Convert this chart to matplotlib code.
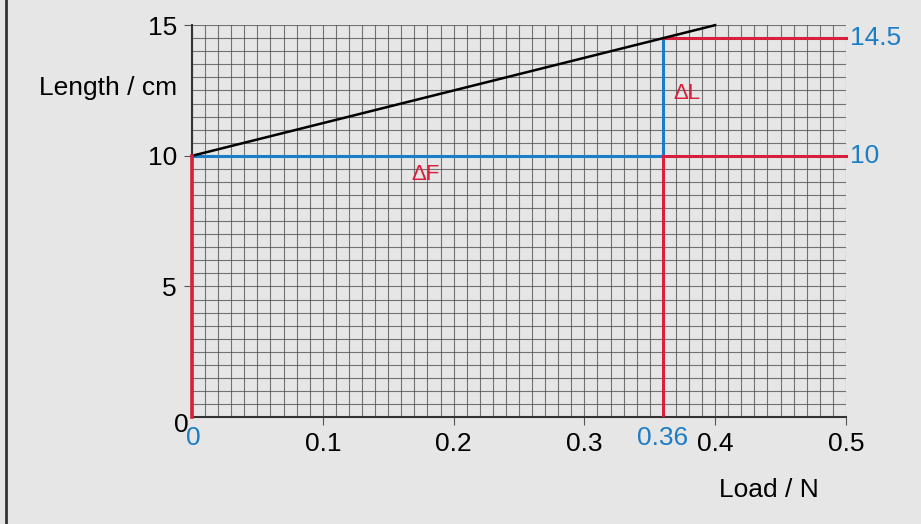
import numpy as np
import matplotlib.pyplot as plt
from matplotlib.lines import Line2D

# data
line_load = [0.0, 0.4]
line_length = [10.0, 15.0]
f_point = 0.36
l0 = 10.0
l1 = 14.5
x_ticks = [0.1, 0.2, 0.3, 0.4, 0.5]
x_tick_labels = ["0.1", "0.2", "0.3", "0.4", "0.5"]
y_ticks = [5, 10, 15]
y_tick_labels = ["5", "10", "15"]

BG = "#e6e6e6"
BLUE = "#1b7dc6"
RED = "#d8203c"
FS = 19

plt.rcParams['font.family'] = ['Liberation Sans', 'DejaVu Sans']

fig = plt.figure(figsize=(9.21, 5.24), dpi=100, facecolor=BG)
ax = fig.add_axes([0.2085, 0.204, 0.710, 0.748])
ax.set_facecolor(BG)
ax.set_xlim(0, 0.5)
ax.set_ylim(0, 15)

# graph paper grid
ax.set_xticks(np.arange(0, 0.5001, 0.01), minor=True)
ax.set_yticks(np.arange(0, 15.001, 0.5), minor=True)
ax.grid(True, which='minor', color='#555555', lw=0.8, alpha=0.8)
ax.grid(True, which='major', color='#555555', lw=0.8, alpha=0.8)
ax.tick_params(which='minor', length=0)

ax.set_xticks(x_ticks)
ax.set_xticklabels(x_tick_labels)
ax.set_yticks(y_ticks)
ax.set_yticklabels(y_tick_labels)
ax.tick_params(which='major', labelsize=FS, length=6, width=0.8,
               color='#555555', pad=5)

for s in ['top', 'right']:
    ax.spines[s].set_visible(False)
for s in ['left', 'bottom']:
    ax.spines[s].set_color('#333333')
    ax.spines[s].set_linewidth(1.5)

# the graph
ax.plot(line_load, line_length, color='black', lw=1.8, clip_on=False, zorder=5)

# construction lines
ax.plot([0, f_point], [l0, l0], color=BLUE, lw=2.2, zorder=4)
ax.plot([f_point, f_point], [l0, l1], color=BLUE, lw=2.2, zorder=4)
ax.plot([0, 0], [0, l0], color=RED, lw=2.6, zorder=6, clip_on=False)
ax.plot([f_point, f_point], [0, l0], color=RED, lw=2.2, zorder=4)
ax.plot([f_point, 0.5], [l0, l0], color=RED, lw=2.2, zorder=4, clip_on=False)
ax.plot([f_point, 0.5], [l1, l1], color=RED, lw=2.2, zorder=4, clip_on=False)

ax.text(0.168, 9.3, "ΔF", color=RED, fontsize=16, ha='left', va='center')
ax.text(0.368, 12.4, "ΔL", color=RED, fontsize=16, ha='left', va='center')

ax.text(0.503, l1, "14.5", color=BLUE, fontsize=FS, ha='left', va='center')
ax.text(0.503, l0, "10", color=BLUE, fontsize=FS, ha='left', va='center')

ax.text(-0.0085, -0.3, "0", fontsize=FS, ha='center', va='center', color='black')
ax.text(0.001, -0.8, "0", fontsize=FS, ha='center', va='center', color=BLUE)
ax.text(f_point, -0.8, "0.36", fontsize=FS, ha='center', va='center', color=BLUE)

fig.text(0.192, 0.832, "Length / cm", fontsize=FS, ha='right', va='center')
fig.text(0.835, 0.065, "Load / N", fontsize=FS, ha='center', va='center')

# frame line on the left
fig.add_artist(Line2D([0.006, 0.006], [0, 1], color='#333333', lw=2.0,
                      transform=fig.transFigure))

fig.savefig("out.png", dpi=100, facecolor=BG)
